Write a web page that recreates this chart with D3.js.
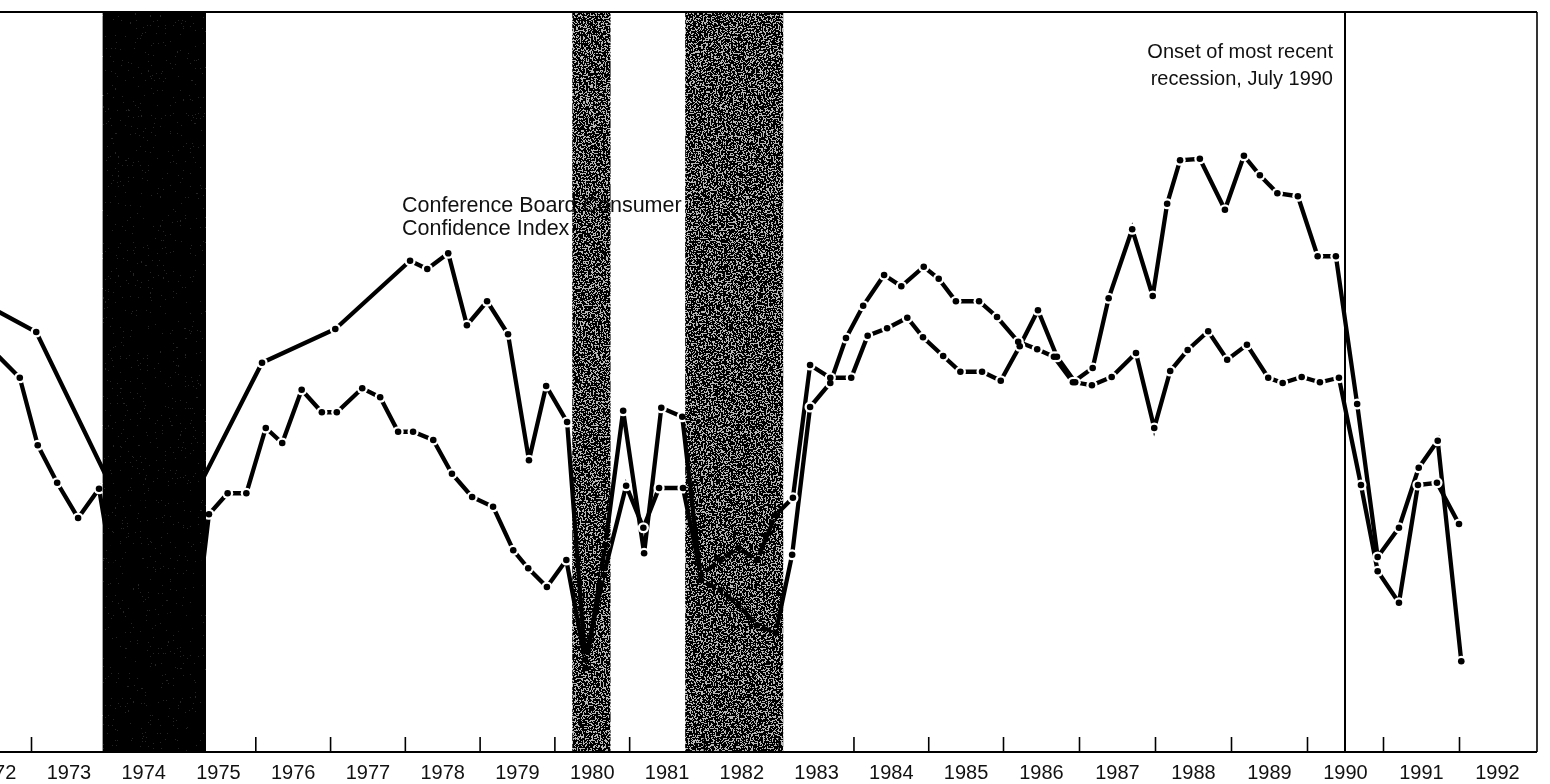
<!DOCTYPE html>
<html>
<head>
<meta charset="utf-8">
<script src="https://cdn.jsdelivr.net/npm/d3@7"></script>
<style>
  body { margin: 0; background: #fff; }
  svg { display: block; }
</style>
</head>
<body>
<div id="chart"></div>
<script>
// quarterly readings, decimal years / index points
var cbDates = [1972.40, 1973.07, 1974.16, 1975.19, 1976.09, 1977.07, 1978.07, 1978.30, 1978.58, 1978.83,
  1979.10, 1979.38, 1979.66, 1979.89, 1980.17, 1980.42, 1980.68, 1980.92, 1981.20, 1981.43,
  1981.71, 1981.96, 1982.22, 1982.46, 1982.71, 1982.96, 1983.18, 1983.42, 1983.69, 1983.90,
  1984.13, 1984.41, 1984.64, 1984.94, 1985.14, 1985.37, 1985.68, 1985.92, 1986.20, 1986.45,
  1986.67, 1986.92, 1987.18, 1987.39, 1987.70, 1987.97, 1988.16, 1988.33, 1988.59, 1988.92,
  1989.17, 1989.38, 1989.61, 1989.88, 1990.14, 1990.38, 1990.66, 1990.93, 1991.21, 1991.47,
  1991.72, 1992.03];
var cbValues = [99.6, 96.0, 73.6, 74.3, 91.9, 96.4, 105.5, 104.4, 106.5, 96.9,
  100.1, 95.7, 78.9, 88.8, 84.0, 51.2, 67.6, 85.5, 66.5, 85.9,
  84.7, 62.9, 61.6, 59.6, 56.9, 55.9, 66.3, 86.0, 89.2, 95.2,
  99.5, 103.6, 102.1, 104.7, 103.1, 100.1, 100.1, 98.0, 94.7, 93.7,
  92.7, 89.3, 91.2, 100.5, 109.7, 100.8, 113.1, 118.9, 119.1, 112.3,
  119.5, 116.9, 114.5, 114.1, 106.1, 106.1, 86.4, 66.0, 69.9, 77.9,
  81.5, 52.1];

var miDates = [1972.48, 1972.85, 1973.09, 1973.35, 1973.63, 1973.91, 1974.16, 1974.42, 1974.67, 1974.93,
  1975.18, 1975.38, 1975.63, 1975.88, 1976.14, 1976.36, 1976.62, 1976.89, 1977.09, 1977.43,
  1977.67, 1977.91, 1978.11, 1978.38, 1978.63, 1978.90, 1979.18, 1979.45, 1979.65, 1979.90,
  1980.16, 1980.41, 1980.66, 1980.96, 1981.19, 1981.40, 1981.72, 1981.96, 1982.22, 1982.46,
  1982.71, 1982.96, 1983.19, 1983.42, 1983.69, 1983.97, 1984.19, 1984.45, 1984.72, 1984.93,
  1985.20, 1985.43, 1985.72, 1985.97, 1986.22, 1986.46, 1986.71, 1986.95, 1987.17, 1987.43,
  1987.75, 1987.99, 1988.20, 1988.43, 1988.70, 1988.95, 1989.21, 1989.49, 1989.68, 1989.93,
  1990.17, 1990.42, 1990.71, 1990.93, 1991.21, 1991.46, 1991.71, 1992.00];
var miValues = [93.6, 89.9, 80.9, 75.9, 71.2, 75.1, 60.3, 65.6, 60.3, 56.3,
  54.9, 71.7, 74.5, 74.5, 83.2, 81.2, 88.3, 85.3, 85.3, 88.5,
  87.3, 82.7, 82.7, 81.6, 77.1, 74.0, 72.7, 66.9, 64.5, 62.0,
  65.6, 52.3, 63.6, 75.5, 69.9, 75.2, 75.2, 63.6, 65.6, 67.2,
  65.6, 71.6, 73.9, 91.6, 89.9, 89.9, 95.5, 96.5, 97.9, 95.3,
  92.8, 90.7, 90.7, 89.5, 94.1, 98.9, 92.7, 89.3, 88.9, 90.0,
  93.2, 83.2, 90.8, 93.6, 96.1, 92.3, 94.3, 89.9, 89.2, 90.0,
  89.3, 89.9, 75.6, 64.1, 59.9, 75.6, 75.9, 70.4];

// recessions (shaded)
var recStart = [1973.96, 1980.24, 1981.75];
var recEnd   = [1975.34, 1980.75, 1983.06];
var recDark  = [true, false, false];
var onsetDate = 1990.5;

var tickYears = d3.range(1973, 1993);
var labelYears = d3.range(1972, 1993);

var width = 1550, height = 784;
var topY = 12, baseY = 752, rightEdge = 1537;

var svg = d3.select("#chart").append("svg")
    .attr("width", width)
    .attr("height", height);

var defs = svg.append("defs");

// scanned chart: the year spacing widens a bit after 1986
var x = d3.scaleLinear()
    .domain([1973, 1986, 1993])
    .range([31, 1003, 1535]);
var y = d3.scaleLinear()
    .domain([40, 130])
    .range([baseY, 77]);

var cb = cbDates.map(function(d, i) { return {t: d, v: cbValues[i]}; });
var mi = miDates.map(function(d, i) { return {t: d, v: miValues[i]}; });

// label sits under the 1980 band
svg.append("g")
    .attr("font-family", "Liberation Sans, Arial, sans-serif")
    .attr("font-size", 21.5)
    .attr("fill", "#111")
  .selectAll("text")
    .data(["Conference Board Consumer", "Confidence Index"])
  .enter().append("text")
    .attr("x", 402)
    .attr("y", function(d, i) { return 212 + i * 23; })
    .text(function(d) { return d; });

var line = d3.line()
    .x(function(d) { return x(d.t); })
    .y(function(d) { return y(d.v); });

var lines = svg.append("g");
[mi, cb].forEach(function(s) {
  lines.append("path")
      .datum(s)
      .attr("d", line)
      .attr("fill", "none")
      .attr("stroke", "#000")
      .attr("stroke-width", 4.3)
      .attr("stroke-linejoin", "miter");
});
var allPts = mi.concat(cb);
lines.selectAll(".halo")
    .data(allPts)
  .enter().append("circle")
    .attr("class", "halo")
    .attr("cx", function(d) { return x(d.t); })
    .attr("cy", function(d) { return y(d.v); })
    .attr("r", 5.6)
    .attr("fill", "#fff");
lines.selectAll(".dot")
    .data(allPts)
  .enter().append("circle")
    .attr("class", "dot")
    .attr("cx", function(d) { return x(d.t); })
    .attr("cy", function(d) { return y(d.v); })
    .attr("r", 3.3)
    .attr("fill", "#000");

// stipple for the shaded bands
function stipple(id, cover, seed) {
  // cover = share of black specks, threshold on the noise
  var t = 0.5 - (cover - 0.5) * 0.55;
  var k = 12;
  var f = defs.append("filter")
      .attr("id", id)
      .attr("x", 0).attr("y", 0).attr("width", 1).attr("height", 1)
      .attr("color-interpolation-filters", "sRGB");
  f.append("feTurbulence")
      .attr("type", "fractalNoise")
      .attr("baseFrequency", 0.6)
      .attr("numOctaves", 2)
      .attr("seed", seed)
      .attr("result", "n");
  f.append("feColorMatrix")
      .attr("in", "n")
      .attr("type", "matrix")
      .attr("values", "0 0 0 0 0  0 0 0 0 0  0 0 0 0 0  " + k + " 0 0 0 " + (0.5 - k * t))
      .attr("result", "a");
  f.append("feComponentTransfer")
      .attr("in", "a")
      .attr("result", "m")
    .append("feFuncA")
      .attr("type", "discrete")
      .attr("tableValues", "0 1");
  f.append("feComposite")
      .attr("in", "SourceGraphic")
      .attr("in2", "m")
      .attr("operator", "in");
}
stipple("darkGrain", 0.95, 3);
stipple("greyGrain", 0.58, 8);

var bands = svg.append("g");
recStart.forEach(function(s, i) {
  var b = bands.append("g").style("mix-blend-mode", "multiply");
  b.append("rect")
      .attr("x", x(s))
      .attr("y", topY)
      .attr("width", x(recEnd[i]) - x(s))
      .attr("height", baseY - topY)
      .attr("fill", recDark[i] ? "#262626" : "#b8b8b8");
  b.append("rect")
      .attr("x", x(s))
      .attr("y", topY)
      .attr("width", x(recEnd[i]) - x(s))
      .attr("height", baseY - topY)
      .attr("fill", "#000")
      .attr("filter", recDark[i] ? "url(#darkGrain)" : "url(#greyGrain)");
});

// frame
var frame = svg.append("g").attr("stroke", "#000").attr("fill", "none");
frame.append("line").attr("x1", 0).attr("x2", rightEdge).attr("y1", topY).attr("y2", topY).attr("stroke-width", 1.8);
frame.append("line").attr("x1", rightEdge).attr("x2", rightEdge).attr("y1", topY).attr("y2", baseY).attr("stroke-width", 1.6);
frame.append("line").attr("x1", 0).attr("x2", rightEdge).attr("y1", baseY).attr("y2", baseY).attr("stroke-width", 2);

// onset of the 1990 recession
svg.append("line")
    .attr("x1", x(onsetDate)).attr("x2", x(onsetDate))
    .attr("y1", topY).attr("y2", baseY)
    .attr("stroke", "#000")
    .attr("stroke-width", 2);

svg.append("g")
    .attr("font-family", "Liberation Sans, Arial, sans-serif")
    .attr("font-size", 20)
    .attr("fill", "#111")
    .attr("text-anchor", "end")
  .selectAll("text")
    .data(["Onset of most recent", "recession, July 1990"])
  .enter().append("text")
    .attr("x", x(onsetDate) - 12)
    .attr("y", function(d, i) { return 58 + i * 27; })
    .text(function(d) { return d; });

// year ticks at year starts, labels in the middle of each year
var tickAxis = svg.append("g")
    .attr("transform", "translate(0," + baseY + ")")
    .call(d3.axisBottom(x).tickValues(tickYears).tickSize(-15).tickSizeOuter(0).tickFormat(""));
tickAxis.select(".domain").remove();
tickAxis.selectAll("line").attr("stroke", "#000").attr("stroke-width", 1.6);

var labelAxis = svg.append("g")
    .attr("transform", "translate(0," + baseY + ")")
    .call(d3.axisBottom(x)
      .tickValues(labelYears.map(function(d) { return d + 0.5; }))
      .tickSize(0)
      .tickPadding(13)
      .tickFormat(function(d) { return Math.floor(d); }));
labelAxis.select(".domain").remove();
labelAxis.selectAll("text")
    .attr("font-family", "Liberation Sans, Arial, sans-serif")
    .attr("font-size", 20)
    .attr("fill", "#111");
</script>
</body>
</html>
